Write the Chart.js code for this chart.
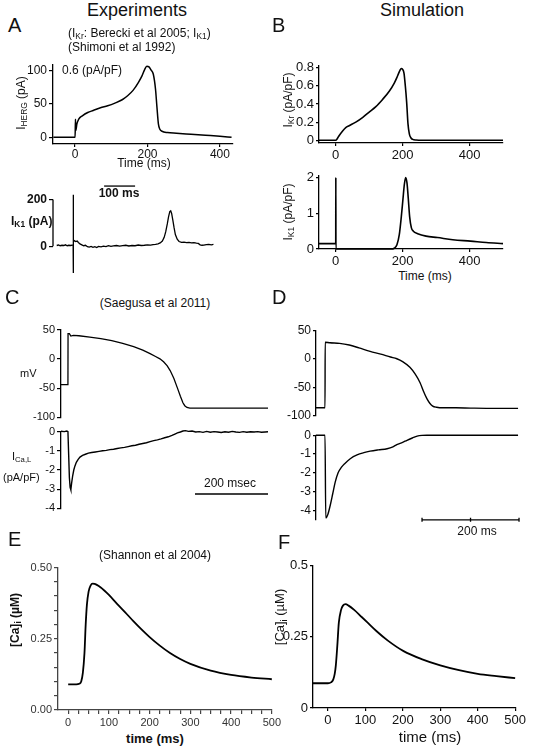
<!DOCTYPE html>
<html>
<head>
<meta charset="utf-8">
<script src="https://cdn.jsdelivr.net/npm/chart.js@4/dist/chart.umd.min.js"></script>
<style>
body { margin: 0; background: #fff; }
#fig { position: relative; width: 534px; height: 750px; overflow: hidden; font-family: "Liberation Sans", Arial, sans-serif; color: #111; }
.box { position: absolute; }
.t { position: absolute; white-space: nowrap; z-index: 2; line-height: 1; }
.c { transform: translateX(-50%); }
.r { transform: translate(-50%, -50%) rotate(-90deg); }
sub { font-size: 70%; vertical-align: -0.25em; }
</style>
</head>
<body>
<div id="fig">
  <div class="t c" style="left:137px;top:1px;font-size:18px">Experiments</div>
  <div class="t" style="left:8px;top:15px;font-size:20px">A</div>
  <div class="t" style="left:68px;top:27px;font-size:12px">(I<sub>Kr</sub>: Berecki et al 2005; I<sub>K1</sub>)</div>
  <div class="t" style="left:68px;top:41px;font-size:12px">(Shimoni et al 1992)</div>
  <div class="t" style="left:62px;top:64px;font-size:12px">0.6 (pA/pF)</div>
  <div class="t r" style="left:22px;top:103px;font-size:12px">I<sub>HERG</sub> (pA)</div>
  <div class="t c" style="left:144px;top:157px;font-size:12px">Time (ms)</div>
  <div class="t" style="left:11px;top:215px;font-size:12px;font-weight:bold">I<sub>K1</sub> (pA)</div>
  <div class="t c" style="left:119px;top:187px;font-size:12px;font-weight:bold">100 ms</div>

  <div class="t" style="left:272px;top:15px;font-size:20px">B</div>
  <div class="t c" style="left:422px;top:1px;font-size:18px">Simulation</div>
  <div class="t r" style="left:289px;top:100px;font-size:12px">I<sub>Kr</sub> (pA/pF)</div>
  <div class="t r" style="left:289px;top:212px;font-size:12px">I<sub>K1</sub> (pA/pF)</div>
  <div class="t c" style="left:425px;top:270px;font-size:12px">Time (ms)</div>

  <div class="t" style="left:5px;top:287px;font-size:20px">C</div>
  <div class="t c" style="left:155px;top:297px;font-size:12px">(Saegusa et al 2011)</div>
  <div class="t" style="left:20px;top:368px;font-size:11px">mV</div>
  <div class="t" style="left:12px;top:451px;font-size:11px">I<sub>Ca,L</sub></div>
  <div class="t" style="left:3px;top:472px;font-size:11px">(pA/pF)</div>
  <div class="t c" style="left:230px;top:477px;font-size:12px">200 msec</div>

  <div class="t" style="left:272px;top:287px;font-size:20px">D</div>
  <div class="t c" style="left:477px;top:525px;font-size:12px">200 ms</div>

  <div class="t" style="left:8px;top:529px;font-size:20px">E</div>
  <div class="t c" style="left:155px;top:549px;font-size:12px">(Shannon et al 2004)</div>
  <div class="t r" style="left:16px;top:620px;font-size:12px;font-weight:bold">[Ca]<sub>i</sub> (µM)</div>
  <div class="t c" style="left:155px;top:732px;font-size:13px;font-weight:bold">time (ms)</div>

  <div class="t" style="left:278px;top:532px;font-size:20px">F</div>
  <div class="t r" style="left:281px;top:617px;font-size:13px">[Ca]<sub>i</sub> (µM)</div>
  <div class="t c" style="left:430px;top:729px;font-size:15px">time (ms)</div>
</div>
<script>
// A: I_HERG experiment (ms, pA)
const hergT = [-60, -5, 0, 1, 2, 5, 10, 20, 35, 50, 70, 90, 110, 130, 145, 160, 175, 185, 192, 198, 204, 210, 216, 222, 226, 230, 234, 240, 255, 280, 320, 360, 400, 432];
const hergV = [0, 0, 0, 27, 10, 20, 27, 32, 37, 40, 44, 47, 51, 56, 62, 70, 82, 92, 101, 106, 105, 100, 94, 72, 45, 20, 12, 9, 7, 6, 4.5, 3, 1.5, 0];
const hergYTicks = [0, 50, 100];
const timeTicksA = [0, 200, 400];

// A: I_K1 experiment (ms, pA)
const ik1ExpT = [-53, -47, -42, -36, -30, -25, -19, -14, -8, -3, 0, 0.3, 0.6, 1.2, 4, 8, 13, 17, 22, 28, 34, 40, 46, 52, 58, 64, 70, 76, 82, 90, 98, 106, 114, 122, 130, 140, 150, 160, 170, 180, 190, 200, 210, 220, 230, 240, 250, 258, 266, 274, 281, 288, 294, 299, 304, 308, 312, 315, 318, 322, 326, 330, 336, 342, 350, 358, 366, 374, 382, 390, 398, 404, 410, 416, 422, 430, 438, 446, 453];
const ik1ExpV = [3, 5, 2, 4, 3, 6, 2, 4, 3, 5, 5, 220, -115, 18, 24, 20, 22, 16, 10, 6, 2, 4, -2, -4, -1, -5, -2, -6, -1, -3, 0, -2, 2, -1, 1, 3, 0, 2, 4, 1, 3, 2, 5, 3, 4, 6, 5, 7, 8, 10, 14, 22, 38, 62, 95, 125, 148, 151, 140, 110, 78, 50, 30, 20, 16, 17, 15, 16, 14, 15, 13, 12, 6, 4, 5, 7, 8, 6, 8];
const ik1ExpYTicks = [0, 200];
const barA = [100, 200];

// B: simulated I_Kr (ms, pA/pF)
const ikrT = [-50, 0, 5, 10, 20, 30, 40, 60, 80, 100, 120, 140, 160, 175, 185, 192, 196, 200, 204, 208, 212, 216, 220, 225, 230, 240, 260, 500];
const ikrV = [0, 0, 0.02, 0.05, 0.1, 0.14, 0.16, 0.2, 0.25, 0.31, 0.37, 0.45, 0.54, 0.63, 0.71, 0.77, 0.79, 0.78, 0.74, 0.6, 0.42, 0.18, 0.07, 0.025, 0.01, 0.003, 0, 0];
const ikrYTicks = [0, 0.2, 0.4, 0.6, 0.8];
const timeTicksB = [0, 200, 400];

// B: simulated I_K1 (ms, pA/pF)
const ik1SimT = [-50, -0.5, 0, 0.3, 0.6, 1, 165, 175, 183, 190, 196, 201, 205, 209, 213, 217, 221, 226, 232, 245, 270, 304, 350, 403, 450, 500];
const ik1SimV = [0.15, 0.15, 0.15, 2.0, 0, 0, 0, 0.02, 0.12, 0.4, 0.9, 1.4, 1.8, 2.0, 1.85, 1.4, 0.9, 0.6, 0.5, 0.43, 0.36, 0.32, 0.26, 0.22, 0.18, 0.15];
const ik1SimYTicks = [0, 1, 2];

// C: experimental AP (ms, mV) and I_Ca,L (ms, pA/pF)
const apExpT = [-19, 0, 0.3, 4, 8, 15, 30, 60, 90, 120, 150, 180, 205, 225, 240, 252, 262, 272, 280, 290, 300, 308, 315, 320, 326, 334, 350, 400, 450, 500, 548];
const apExpV = [-44, -44, 43, 43, 39, 40, 39.5, 37, 34.5, 31, 26.5, 21, 15, 9, 4, 0, -5, -12, -20, -33, -50, -64, -75, -80, -83, -84, -84, -84, -84, -84, -84];
const icaExpT = [-19, -10, -3, 0, 2, 4, 6, 8, 10, 13, 16, 19, 23, 28, 33, 40, 48, 56, 65, 75, 85, 95, 105, 115, 125, 135, 145, 155, 165, 175, 185, 195, 205, 215, 225, 235, 245, 255, 265, 275, 285, 293, 300, 308, 315, 322, 330, 340, 350, 360, 370, 380, 390, 400, 410, 420, 430, 440, 450, 460, 470, 480, 490, 500, 510, 520, 530, 540, 548];
const icaExpV = [0.02, 0, 0.03, 0, -1.2, -2.4, -2.9, -3.03, -2.7, -2.3, -2.0, -1.8, -1.6, -1.45, -1.33, -1.24, -1.18, -1.12, -1.09, -1.06, -1.03, -1.0, -0.98, -0.94, -0.92, -0.88, -0.85, -0.82, -0.78, -0.74, -0.71, -0.66, -0.62, -0.58, -0.52, -0.47, -0.43, -0.38, -0.32, -0.27, -0.2, -0.13, -0.07, -0.02, 0.03, 0.05, 0.01, 0.03, -0.02, 0.0, -0.04, 0.01, -0.03, 0.0, -0.02, -0.05, -0.01, -0.03, 0.01, -0.02, -0.04, 0.0, -0.03, -0.01, -0.02, 0.0, -0.03, -0.02, -0.01];
const apYTicks = [-100, -50, 0, 50];
const icaExpYTicks = [-4, -3, -2, -1, 0];
const barC = [348, 548];

// D: simulated AP and I_Ca,L
const apSimT = [-19, 0, 0.3, 10, 30, 50, 70, 93, 115, 135, 148, 160, 175, 186, 196, 203, 210, 216, 222, 230, 243, 270, 300, 350, 398];
const apSimV = [-86, -86, 29, 28, 27, 24, 19, 13, 8, 3, 0, -5, -15, -27, -42, -57, -70, -78, -83, -85, -86, -86, -86.5, -87, -87];
const icaSimT = [-19, 0, 1.5, 6, 11, 16, 21, 27, 34, 41, 52, 66, 80, 93, 110, 128, 140, 148, 160, 169, 180, 190, 200, 210, 250, 300, 398];
const icaSimV = [0, 0, -4.4, -4.2, -3.7, -3.1, -2.5, -2.0, -1.7, -1.5, -1.25, -1.05, -0.93, -0.85, -0.78, -0.72, -0.62, -0.5, -0.38, -0.27, -0.15, -0.05, -0.01, 0, 0, 0, 0];
const icaSimYTicks = [-4, -3, -2, -1, 0];
const barD = [200, 300, 400];

// E: experimental [Ca]i (ms, uM)
const caExpT = [0, 10, 20, 27, 32, 36, 40, 43, 46, 50, 55, 60, 65, 75, 90, 100, 120, 140, 160, 180, 200, 225, 250, 275, 300, 350, 400, 450, 500];
const caExpV = [0.09, 0.09, 0.09, 0.092, 0.1, 0.13, 0.2, 0.3, 0.37, 0.415, 0.437, 0.444, 0.443, 0.435, 0.418, 0.404, 0.373, 0.343, 0.312, 0.283, 0.256, 0.226, 0.2, 0.179, 0.162, 0.138, 0.123, 0.114, 0.108];
const caExpYTicks = [0, 0.05, 0.1, 0.15, 0.2, 0.25, 0.3, 0.35, 0.4, 0.45, 0.5];
const caExpXTicks = [0, 25, 50, 75, 100, 125, 150, 175, 200, 225, 250, 275, 300, 325, 350, 375, 400, 425, 450, 475, 500];

// F: simulated [Ca]i
const caSimT = [-40, 0, 8, 14, 18, 21, 25, 29, 35, 40, 47, 55, 70, 90, 106, 130, 160, 202, 250, 300, 350, 400, 450, 500];
const caSimV = [0.087, 0.087, 0.09, 0.1, 0.12, 0.15, 0.22, 0.3, 0.345, 0.36, 0.365, 0.36, 0.345, 0.32, 0.3, 0.27, 0.237, 0.2, 0.172, 0.15, 0.133, 0.12, 0.112, 0.105];
const caSimYTicks = [0, 0.25, 0.5];
const caSimXTicks = [0, 100, 200, 300, 400, 500];

Chart.defaults.font.family = '"Liberation Sans", Arial, sans-serif';
Chart.defaults.color = '#111';

// extra lines: partial y spine and scale bars, drawn through the scales
const extras = {
  id: 'extras',
  afterDraw(chart, args, opts) {
    const ctx = chart.ctx, xs = chart.scales.x, ys = chart.scales.y;
    ctx.save();
    ctx.strokeStyle = '#000';
    ctx.lineWidth = 1.3;
    if (opts.spine) {
      const x = chart.chartArea.left;
      ctx.beginPath();
      ctx.moveTo(x, ys.getPixelForValue(opts.spine[0]));
      ctx.lineTo(x, ys.getPixelForValue(opts.spine[1]));
      ctx.stroke();
    }
    if (opts.bar) {
      const b = opts.bar, y = ys.getPixelForValue(b.y);
      ctx.beginPath();
      ctx.moveTo(xs.getPixelForValue(b.x[0]), y);
      ctx.lineTo(xs.getPixelForValue(b.x[b.x.length - 1]), y);
      if (b.ticks) b.x.forEach(v => {
        const x = xs.getPixelForValue(v);
        ctx.moveTo(x, y - 2);
        ctx.lineTo(x, y + 2);
      });
      ctx.stroke();
    }
    ctx.restore();
  }
};
Chart.register(extras);

const fig = document.getElementById('fig');

function pts(ts, vs) {
  return ts.map((t, i) => ({ x: t, y: vs[i] }));
}

function axis(o, which) {
  const a = o[which];
  const isX = which === 'x';
  return {
    type: 'linear',
    min: a.min,
    max: a.max,
    display: a.show !== false,
    afterFit: s => { if (isX) s.height = o.xH || 0; else s.width = o.yW; },
    afterBuildTicks: s => { s.ticks = (a.ticks || []).map(v => ({ value: v })); },
    ticks: {
      autoSkip: false,
      maxRotation: 0,
      padding: a.pad ?? 2,
      color: a.color || '#111',
      font: { size: a.size || 12, weight: a.bold ? 'bold' : 'normal' },
      callback: a.fmt || (v => String(Math.round(v * 100) / 100))
    },
    grid: { display: true, drawOnChartArea: false, drawTicks: true, tickLength: a.tick ?? 4, color: a.lineColor || '#000', lineWidth: 1.2 },
    border: { display: a.border !== false, color: a.lineColor || '#000', width: 1.3 }
  };
}

function panel(o) {
  const pt = o.pt ?? 7, pr = o.pr ?? 6, pb = o.xH ? 0 : (o.pb ?? 7);
  const w = o.r - o.l + o.yW + pr;
  const h = o.b - o.t + pt + (o.xH || 0) + pb;
  const box = document.createElement('div');
  box.className = 'box';
  box.style.left = (o.l - o.yW) + 'px';
  box.style.top = (o.t - pt) + 'px';
  const cv = document.createElement('canvas');
  cv.width = w;
  cv.height = h;
  box.appendChild(cv);
  fig.appendChild(box);
  new Chart(cv, {
    type: 'line',
    data: {
      datasets: [{
        data: pts(o.tx, o.vy),
        borderColor: '#000',
        borderWidth: o.lw || 1.5,
        pointRadius: 0,
        tension: 0,
        cubicInterpolationMode: o.smooth ? 'monotone' : 'default',
        clip: false
      }]
    },
    options: {
      responsive: false,
      devicePixelRatio: 1,
      animation: false,
      events: [],
      layout: { padding: { top: pt, right: pr, bottom: pb, left: 0 } },
      plugins: { legend: { display: false }, tooltip: { enabled: false }, extras: o.extras || {} },
      scales: { x: axis(o, 'x'), y: axis(o, 'y') }
    }
  });
}

// A top
panel({ l: 53, r: 233, t: 62, b: 144, yW: 30, xH: 16, tx: hergT, vy: hergV, smooth: true,
  x: { min: -61, max: 436, ticks: timeTicksA, tick: 3, pad: 0 },
  y: { min: -10, max: 109, ticks: hergYTicks } });
// A bottom
panel({ l: 53, r: 215, t: 180, b: 278, yW: 30, tx: ik1ExpT, vy: ik1ExpV, lw: 1.3,
  x: { min: -65, max: 458, show: false },
  y: { min: -126.5, max: 273.5, ticks: ik1ExpYTicks, bold: true, border: false },
  extras: { spine: [0, 200], bar: { x: barA, y: 257 } } });
// B top
panel({ l: 319, r: 503, t: 63, b: 143, yW: 30, xH: 18, tx: ikrT, vy: ikrV, smooth: true, lw: 1.6,
  x: { min: -50, max: 500, ticks: timeTicksB, size: 13, tick: 3 },
  y: { min: -0.03, max: 0.82, ticks: ikrYTicks, size: 13, tick: 3 } });
// B bottom
panel({ l: 319, r: 503, t: 173, b: 249, yW: 30, xH: 18, tx: ik1SimT, vy: ik1SimV, smooth: true, lw: 1.6,
  x: { min: -50, max: 500, ticks: timeTicksB, size: 13, tick: 3 },
  y: { min: 0, max: 2.05, ticks: ik1SimYTicks, size: 13, tick: 3 } });
// C top
panel({ l: 61, r: 268, t: 328, b: 419, yW: 30, tx: apExpT, vy: apExpV, lw: 1.3,
  x: { min: -19, max: 548, show: false },
  y: { min: -100, max: 50, ticks: apYTicks, size: 11 } });
// C bottom
panel({ l: 61, r: 268, t: 430, b: 510, yW: 30, tx: icaExpT, vy: icaExpV, lw: 1.4,
  x: { min: -19, max: 548, show: false },
  y: { min: -4, max: 0, ticks: icaExpYTicks, size: 11 },
  extras: { bar: { x: barC, y: -3.25 } } });
// D top
panel({ l: 316, r: 520, t: 328, b: 418, yW: 30, tx: apSimT, vy: apSimV, lw: 1.4, smooth: true,
  x: { min: -18.6, max: 402, show: false },
  y: { min: -100, max: 50, ticks: apYTicks, size: 12, tick: 3 } });
// D bottom
panel({ l: 316, r: 520, t: 433, b: 522, yW: 30, tx: icaSimT, vy: icaSimV, lw: 1.4, smooth: true,
  x: { min: -18.6, max: 402, show: false },
  y: { min: -4.5, max: 0, ticks: icaSimYTicks, size: 12, tick: 3 },
  extras: { bar: { x: barD, y: -4.5, ticks: true } } });
// E
panel({ l: 58, r: 277.5, t: 566, b: 710, yW: 33, xH: 18, tx: caExpT, vy: caExpV, smooth: true, lw: 1.8,
  x: { min: -25, max: 500, ticks: caExpXTicks, size: 11, color: '#333', lineColor: '#444', fmt: v => v % 100 === 0 ? String(v) : '' },
  y: { min: 0, max: 0.5, ticks: caExpYTicks, size: 11, color: '#333', lineColor: '#444', fmt: v => Math.abs(v * 4 - Math.round(v * 4)) < 1e-6 ? v.toFixed(2) : '' } });
// F
panel({ l: 313, r: 522, t: 563, b: 708, yW: 33, xH: 19, tx: caSimT, vy: caSimV, smooth: true, lw: 1.8,
  x: { min: -40, max: 500, ticks: caSimXTicks, size: 13, tick: 3 },
  y: { min: 0, max: 0.5, ticks: caSimYTicks, size: 13, tick: 3 } });
</script>
</body>
</html>
